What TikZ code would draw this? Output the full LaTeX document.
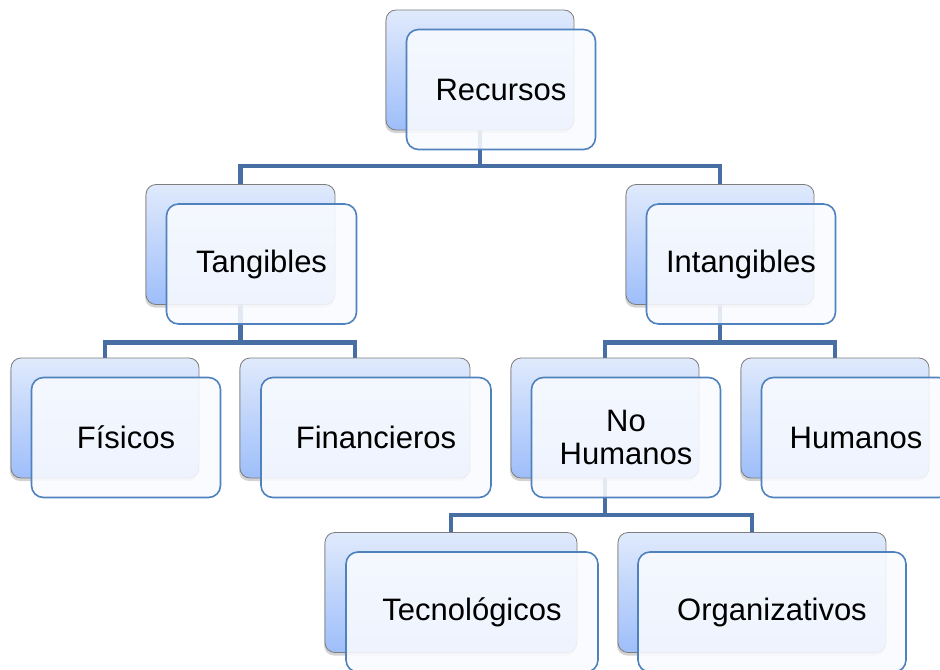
\documentclass[tikz,border=0pt]{standalone}
\usepackage{fontspec}
\setmainfont{Liberation Sans}
\usetikzlibrary{shadows,backgrounds}
\definecolor{conncol}{RGB}{72,111,163}
\definecolor{backborder}{RGB}{125,125,125}
\definecolor{backtop}{RGB}{224,234,252}
\definecolor{backbot}{RGB}{158,190,250}
\definecolor{frontborder}{RGB}{79,129,189}
\definecolor{frontfill}{RGB}{249,251,255}
\begin{document}
\begin{tikzpicture}[x=1bp,y=-1bp,
  backbox/.style={draw=backborder, line width=0.8bp, rounded corners=10bp,
    top color=backtop, bottom color=backbot,
    drop shadow={shadow xshift=-1bp,shadow yshift=-3bp,opacity=0.35},
    minimum height=120bp, inner sep=0pt, outer sep=0pt},
  frontbox/.style={draw=frontborder, line width=1.6bp, rounded corners=12bp,
    fill=frontfill, fill opacity=0.88, text opacity=1, text=black,
    minimum height=120bp, inner sep=0pt, outer sep=0pt, align=center,
    font=\fontsize{31bp}{33bp}\selectfont},
  conn/.style={draw=conncol, line width=4.5bp}]
\useasboundingbox (0,0) rectangle (940,670);
\clip (0,0) rectangle (940,670);
% Recursos
\node[backbox, minimum width=188bp] (recb) at (480,70) {};
\node[frontbox, minimum width=189bp] (rec) at (501,89.5) {Recursos};
% Tangibles
\node[backbox, minimum width=189bp] (tanb) at (240.5,244.5) {};
\node[frontbox, minimum width=190bp] (tan) at (261.5,264) {Tangibles};
% Intangibles
\node[backbox, minimum width=188bp] (intb) at (720,244.5) {};
\node[frontbox, minimum width=189bp] (int) at (741,264) {Intangibles};
% Fisicos
\node[backbox, minimum width=188bp] (fisb) at (105,418) {};
\node[frontbox, minimum width=189bp] (fis) at (126,437.5) {Físicos};
% Financieros
\node[backbox, minimum width=230bp] (finb) at (355,418) {};
\node[frontbox, minimum width=230bp] (fin) at (376,437.5) {Financieros};
% No Humanos
\node[backbox, minimum width=188bp] (nohb) at (605,418) {};
\node[frontbox, minimum width=189bp] (noh) at (626,437.5) {No\\Humanos};
% Humanos
\node[backbox, minimum width=188bp] (humb) at (835,418) {};
\node[frontbox, minimum width=189bp] (hum) at (856,437.5) {Humanos};
% Tecnologicos
\node[backbox, minimum width=252bp] (tecb) at (451,592.5) {};
\node[frontbox, minimum width=252bp] (tec) at (472,612) {Tecnológicos};
% Organizativos
\node[backbox, minimum width=268bp] (orgb) at (752,592.5) {};
\node[frontbox, minimum width=268bp] (org) at (772,612) {Organizativos};
\begin{scope}[on background layer]
\draw[conn] (recb.south) -- ++(0,-36bp) -| (tanb.north);
\draw[conn] (recb.south) -- ++(0,-36bp) -| (intb.north);
\draw[conn] (tanb.south) -- ++(0,-38bp) -| (fisb.north);
\draw[conn] (tanb.south) -- ++(0,-38bp) -| (finb.north);
\draw[conn] (intb.south) -- ++(0,-38bp) -| (nohb.north);
\draw[conn] (intb.south) -- ++(0,-38bp) -| (humb.north);
\draw[conn] (nohb.south) -- ++(0,-37bp) -| (tecb.north);
\draw[conn] (nohb.south) -- ++(0,-37bp) -| (orgb.north);
\end{scope}
\end{tikzpicture}
\end{document}
